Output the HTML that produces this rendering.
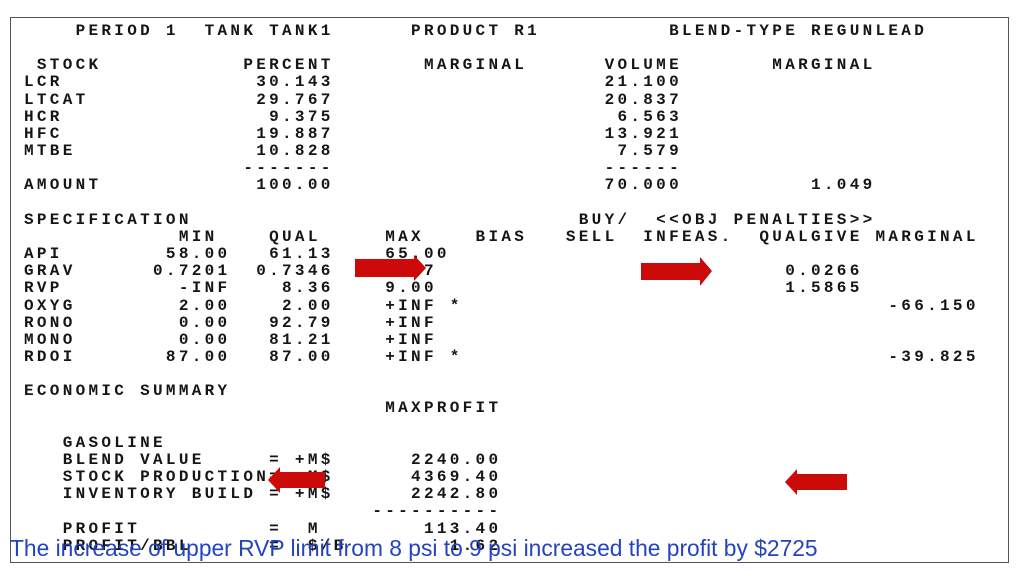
<!DOCTYPE html>
<html><head><meta charset="utf-8"><style>
html,body{margin:0;padding:0;background:#fff;width:1024px;height:576px;overflow:hidden;position:relative}
.box{position:absolute;left:10px;top:17px;width:997px;height:544px;border:1.5px solid #555;background:#fff}
pre{position:absolute;left:24px;top:23px;margin:0;font-family:"Liberation Mono",monospace;font-weight:bold;font-size:16px;letter-spacing:3.3px;line-height:17.15px;color:#151515}
.cap{position:absolute;left:10px;top:535px;font-family:"Liberation Sans",sans-serif;font-size:22.8px;color:#2443c0;white-space:nowrap}
svg{position:absolute;left:0;top:0}
</style></head><body>
<div class="box"></div>
<pre>    PERIOD 1  TANK TANK1      PRODUCT R1          BLEND-TYPE REGUNLEAD

 STOCK           PERCENT       MARGINAL      VOLUME       MARGINAL
LCR               30.143                     21.100
LTCAT             29.767                     20.837
HCR                9.375                      6.563
HFC               19.887                     13.921
MTBE              10.828                      7.579
                 -------                     ------
AMOUNT            100.00                     70.000          1.049

SPECIFICATION                              BUY/  &lt;&lt;OBJ PENALTIES&gt;&gt;
            MIN    QUAL     MAX    BIAS   SELL  INFEAS.  QUALGIVE MARGINAL
API        58.00   61.13    65.00
GRAV      0.7201  0.7346  0.7407                           0.0266
RVP         -INF    8.36    9.00                           1.5865
OXYG        2.00    2.00    +INF *                                 -66.150
RONO        0.00   92.79    +INF
MONO        0.00   81.21    +INF
RDOI       87.00   87.00    +INF *                                 -39.825

ECONOMIC SUMMARY
                            MAXPROFIT

   GASOLINE
   BLEND VALUE     = +M$      2240.00
   STOCK PRODUCTION= -M$      4369.40
   INVENTORY BUILD = +M$      2242.80
                           ----------
   PROFIT          =  M        113.40
   PROFIT/BBL      =  $/B        1.62</pre>
<svg width="1024" height="576">
<g fill="#cc0a0a">
<polygon points="355,259 414,259 414,255 426,268 414,281 414,277 355,277"/>
<polygon points="641,263 700,263 700,257 712,271 700,286 700,280 641,280"/>
<polygon points="325,472 280,472 280,467 268,480 280,493 280,488 325,488"/>
<polygon points="847,474 797,474 797,469 785,482 797,495 797,490 847,490"/>
</g></svg>
<div class="cap">The increase of upper RVP limit from 8 psi to 9 psi increased the profit by $2725</div>
</body></html>
